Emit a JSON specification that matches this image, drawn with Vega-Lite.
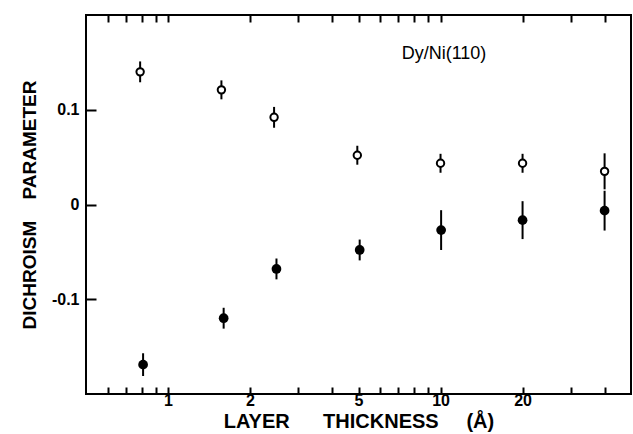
{
  "$schema": "https://vega.github.io/schema/vega-lite/v6.json",
  "autosize": {"type": "none"},
  "padding": {"left": 86, "top": 15, "right": 2, "bottom": 40},
  "width": 545,
  "height": 379,
  "background": "white",
  "config": {
    "view": {"stroke": "black", "strokeWidth": 2},
    "font": "Liberation Sans"
  },
  "resolve": {"axis": {"x": "independent", "y": "independent"}},
  "datasets": {
    "pts": [
      {"series": "open", "x": 0.79, "y": 0.140, "lo": 0.129, "hi": 0.151},
      {"series": "open", "x": 1.57, "y": 0.121, "lo": 0.111, "hi": 0.131},
      {"series": "open", "x": 2.45, "y": 0.092, "lo": 0.081, "hi": 0.103},
      {"series": "open", "x": 4.95, "y": 0.052, "lo": 0.042, "hi": 0.062},
      {"series": "open", "x": 10, "y": 0.0435, "lo": 0.0335, "hi": 0.0535},
      {"series": "open", "x": 20, "y": 0.0435, "lo": 0.0335, "hi": 0.0535},
      {"series": "open", "x": 40, "y": 0.035, "lo": 0.016, "hi": 0.054},
      {"series": "filled", "x": 0.81, "y": -0.169, "lo": -0.181, "hi": -0.157},
      {"series": "filled", "x": 1.6, "y": -0.12, "lo": -0.131, "hi": -0.109},
      {"series": "filled", "x": 2.5, "y": -0.068, "lo": -0.079, "hi": -0.057},
      {"series": "filled", "x": 5.05, "y": -0.048, "lo": -0.059, "hi": -0.037},
      {"series": "filled", "x": 10.05, "y": -0.027, "lo": -0.048, "hi": -0.006},
      {"series": "filled", "x": 20, "y": -0.0165, "lo": -0.0365, "hi": 0.0035},
      {"series": "filled", "x": 40, "y": -0.0065, "lo": -0.0275, "hi": 0.0145}
    ],
    "note": [{"x": 10.3, "y": 0.159, "label": "Dy/Ni(110)"}]
  },
  "layer": [
    {
      "data": {"name": "pts"},
      "mark": {"type": "rule", "color": "black", "strokeWidth": 2},
      "encoding": {
        "x": {"field": "x", "type": "quantitative", "scale": {"type": "log", "domain": [0.5, 50], "nice": false},
          "axis": {
            "orient": "bottom",
            "values": [0.6, 0.7, 0.8, 0.9, 1, 2, 3, 4, 5, 6, 7, 8, 9, 10, 20, 30, 40],
            "labelExpr": "indexof([1,2,5,10,20], datum.value) >= 0 ? datum.value + '' : ''",
            "tickSize": -7, "tickWidth": 2, "tickColor": "black",
            "domain": false, "grid": false,
            "labelFontSize": 16, "labelFontWeight": "bold", "labelColor": "black", "labelPadding": 5, "labelFlush": false,
            "title": "LAYER\u00a0\u00a0\u00a0\u00a0\u00a0 THICKNESS\u00a0\u00a0\u00a0\u00a0 (Å)",
            "titleFontSize": 20, "titleFontWeight": "bold", "titleColor": "black", "titlePadding": 3
          }},
        "y": {"field": "lo", "type": "quantitative", "scale": {"domain": [-0.2, 0.2], "nice": false},
          "axis": {
            "values": [-0.1, 0, 0.1],
            "labelExpr": "datum.value > 0.05 ? '0.1' : (datum.value < -0.05 ? '-0.1' : '0')",
            "tickSize": -10, "tickWidth": 2, "tickColor": "black",
            "domain": false, "grid": false,
            "labelFontSize": 16, "labelFontWeight": "bold", "labelColor": "black", "labelPadding": 17,
            "title": "DICHROISM\u00a0\u00a0\u00a0 PARAMETER",
            "titleFontSize": 19, "titleFontWeight": "bold", "titleColor": "black", "titlePadding": 12
          }},
        "y2": {"field": "hi"}
      }
    },
    {
      "data": {"name": "pts"},
      "mark": {"type": "rule", "opacity": 0},
      "encoding": {
        "x": {"field": "x", "type": "quantitative",
          "axis": {
            "orient": "top",
            "values": [0.6, 0.7, 0.8, 0.9, 1, 2, 3, 4, 5, 6, 7, 8, 9, 10, 20, 30, 40],
            "labels": false, "tickSize": -7, "tickWidth": 2, "tickColor": "black",
            "domain": false, "grid": false, "title": null
          }},
        "y": {"field": "y", "type": "quantitative", "axis": null}
      }
    },
    {
      "mark": {"type": "rule", "color": "black", "strokeWidth": 2},
      "encoding": {"y": {"datum": 0, "type": "quantitative", "axis": null}}
    },
    {
      "data": {"name": "pts"},
      "transform": [{"filter": "datum.series == 'filled'"}],
      "mark": {"type": "point", "shape": "circle", "filled": true, "color": "black", "opacity": 1, "size": 95},
      "encoding": {
        "x": {"field": "x", "type": "quantitative", "axis": null},
        "y": {"field": "y", "type": "quantitative", "axis": null}
      }
    },
    {
      "data": {"name": "pts"},
      "transform": [{"filter": "datum.series == 'open'"}],
      "mark": {"type": "point", "shape": "circle", "filled": true, "fill": "white", "stroke": "black", "strokeWidth": 2, "opacity": 1, "size": 55},
      "encoding": {
        "x": {"field": "x", "type": "quantitative", "axis": null},
        "y": {"field": "y", "type": "quantitative", "axis": null}
      }
    },
    {
      "data": {"name": "note"},
      "mark": {"type": "text", "fontSize": 18, "color": "black", "align": "center", "baseline": "middle"},
      "encoding": {
        "x": {"field": "x", "type": "quantitative", "axis": null},
        "y": {"field": "y", "type": "quantitative", "axis": null},
        "text": {"field": "label"}
      }
    }
  ]
}
